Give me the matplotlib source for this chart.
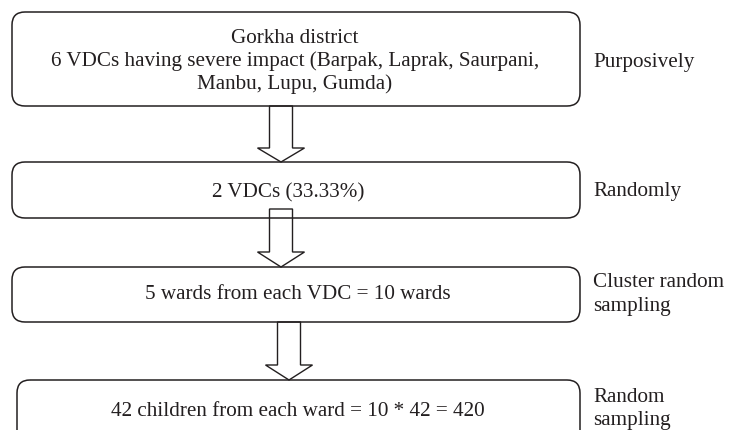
import matplotlib.pyplot as plt
from matplotlib.patches import FancyBboxPatch, Polygon

# flowchart content
box_lines = [
    ["Gorkha district",
     "6 VDCs having severe impact (Barpak, Laprak, Saurpani,",
     "Manbu, Lupu, Gumda)"],
    ["2 VDCs (33.33%)"],
    ["5 wards from each VDC = 10 wards"],
    ["42 children from each ward = 10 * 42 = 420"],
]
method_lines = [
    ["Purposively"],
    ["Randomly"],
    ["Cluster random", "sampling"],
    ["Random", "sampling"],
]

# layout (pixels, y downwards)
box_left = [12, 12, 12, 17]
box_right = 580
box_top = [13, 163, 268, 381]
box_bottom = [107, 219, 323, 450]
box_text_x = [295, 288, 298, 298]
box_baselines = [[43, 66, 89], [197], [299], [416]]
method_x = 593
method_baselines = [[67], [196], [287, 311], [402, 425]]
# arrows: (centre x, shaft top, head base, tip)
arrows = [(281, 107, 149, 163), (281, 210, 253, 268), (289, 323, 366, 381)]
shaft_half, head_half = 11.5, 23.5

fs = 15.2
font = "Liberation Serif"
col = "#231f20"

fig = plt.figure(figsize=(7.3, 4.31), dpi=100)
ax = fig.add_axes([0, 0, 1, 1])
ax.set_xlim(0, 730)
ax.set_ylim(431, 0)
ax.axis("off")

for cx, top, base, tip in arrows:
    pts = [(cx - shaft_half, top), (cx + shaft_half, top), (cx + shaft_half, base),
           (cx + head_half, base), (cx, tip), (cx - head_half, base), (cx - shaft_half, base)]
    ax.add_patch(Polygon(pts, closed=True, fill=False, edgecolor=col, lw=1.0))

for i, lines in enumerate(box_lines):
    l, t, b = box_left[i], box_top[i], box_bottom[i]
    ax.add_patch(FancyBboxPatch((l, t), box_right - l, b - t,
                                boxstyle="round,pad=0,rounding_size=13",
                                fill=False, edgecolor=col, lw=1.1))
    for txt, y in zip(lines, box_baselines[i]):
        ax.text(box_text_x[i], y, txt, ha="center", va="baseline", fontsize=fs,
                family=font, color=col)

for lines, ys in zip(method_lines, method_baselines):
    for txt, y in zip(lines, ys):
        ax.text(method_x, y, txt, ha="left", va="baseline", fontsize=fs,
                family=font, color=col)

fig.savefig("out.png", dpi=100, facecolor="white")
